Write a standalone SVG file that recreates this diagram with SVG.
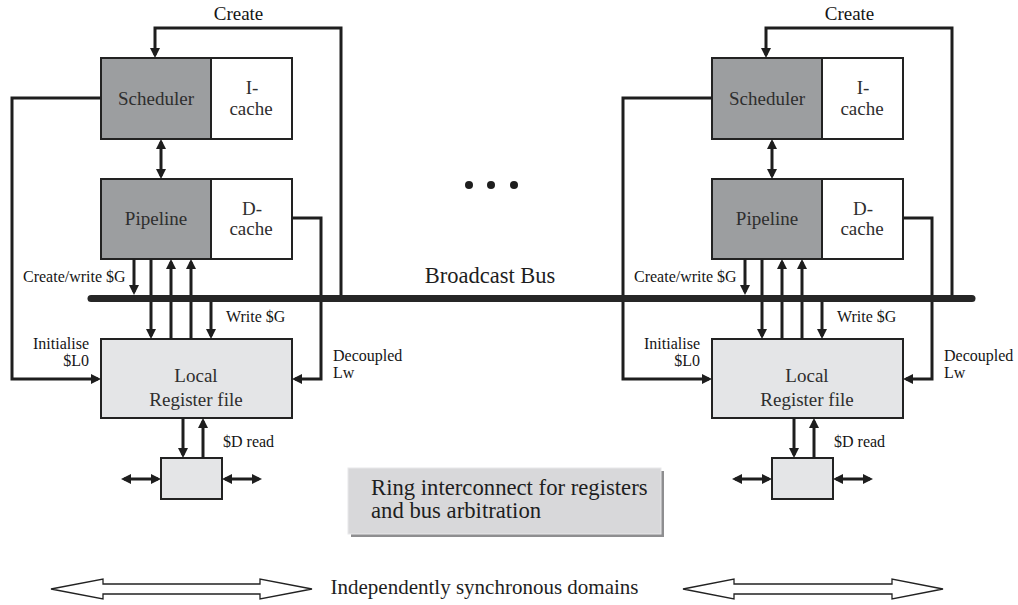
<svg xmlns="http://www.w3.org/2000/svg" width="1018" height="605" viewBox="0 0 1018 605">
<style>
.dark{fill:#9c9ea0;stroke:#222;stroke-width:2}
.white{fill:#fff;stroke:#222;stroke-width:2}
.light{fill:#e4e5e7;stroke:#222;stroke-width:2}
.conn{fill:none;stroke:#1e1e1e;stroke-width:3}
.bus{fill:none;stroke:#262626;stroke-width:7;stroke-linecap:round}
text{font-family:'Liberation Serif','Times New Roman',Times,'DejaVu Serif',serif}
.nt{font-size:19px;fill:#2e2e2e;text-anchor:middle}
.lbl{font-size:16px;fill:#151515}
.big{font-size:21px;fill:#1e1e1e}
.hollow{fill:#fff;stroke:#222;stroke-width:1.3}
</style>
<defs>
<marker id="ah" viewBox="0 0 10 10" refX="7" refY="5" markerWidth="10" markerHeight="10" markerUnits="userSpaceOnUse" orient="auto-start-reverse">
<path d="M0,0 L10,5 L0,10 z" fill="#1e1e1e"/>
</marker>
</defs>
<rect width="1018" height="605" fill="#fff"/>

<!-- Left unit nodes -->
<g id="scheduler-1"><rect class="dark" x="101" y="58" width="110" height="81"/><text class="nt" x="156" y="105">Scheduler</text></g>
<g id="icache-1"><rect class="white" x="211" y="58" width="81" height="81"/><text class="nt" x="252" y="94">I-</text><text class="nt" x="251" y="115">cache</text></g>
<g id="pipeline-1"><rect class="dark" x="101" y="179" width="110" height="80"/><text class="nt" x="156" y="225">Pipeline</text></g>
<g id="dcache-1"><rect class="white" x="211" y="179" width="81" height="80"/><text class="nt" x="252" y="215">D-</text><text class="nt" x="251" y="235">cache</text></g>
<g id="regfile-1"><rect class="light" x="101" y="339" width="191" height="79"/><text class="nt" x="196" y="382">Local</text><text class="nt" x="196" y="406">Register file</text></g>
<g id="ringnode-1"><rect class="light" x="161" y="458" width="61" height="41"/></g>

<!-- Right unit nodes -->
<g id="scheduler-2" transform="translate(611,0)"><rect class="dark" x="101" y="58" width="110" height="81"/><text class="nt" x="156" y="105">Scheduler</text></g>
<g id="icache-2" transform="translate(611,0)"><rect class="white" x="211" y="58" width="81" height="81"/><text class="nt" x="252" y="94">I-</text><text class="nt" x="251" y="115">cache</text></g>
<g id="pipeline-2" transform="translate(611,0)"><rect class="dark" x="101" y="179" width="110" height="80"/><text class="nt" x="156" y="225">Pipeline</text></g>
<g id="dcache-2" transform="translate(611,0)"><rect class="white" x="211" y="179" width="81" height="80"/><text class="nt" x="252" y="215">D-</text><text class="nt" x="251" y="235">cache</text></g>
<g id="regfile-2" transform="translate(611,0)"><rect class="light" x="101" y="339" width="191" height="79"/><text class="nt" x="196" y="382">Local</text><text class="nt" x="196" y="406">Register file</text></g>
<g id="ringnode-2" transform="translate(611,0)"><rect class="light" x="161" y="458" width="61" height="41"/></g>

<!-- Ring interconnect box -->
<g id="ring-note">
<rect x="351" y="471" width="313" height="66" fill="#8e8e90"/>
<rect x="348" y="468" width="313" height="66" fill="#d8d8da" stroke="#e8e8ea" stroke-width="1"/>
<text class="big" x="371" y="495" style="font-size:22.7px">Ring interconnect for registers</text>
<text class="big" x="371" y="518" style="font-size:22.7px">and bus arbitration</text>
</g>

<!-- Connectors -->
<g id="connectors">
<g id="conn-1">
<path class="conn" d="M341,295 V28 H155 V55" marker-end="url(#ah)"/>
<path class="conn" d="M101,98 H12 V379 H98" marker-end="url(#ah)"/>
<path class="conn" d="M161,142 V176" marker-start="url(#ah)" marker-end="url(#ah)"/>
<path class="conn" d="M292,218 H321 V379 H295" marker-end="url(#ah)"/>
<path class="conn" d="M134,259 V292" marker-end="url(#ah)"/>
<path class="conn" d="M151,259 V336" marker-end="url(#ah)"/>
<path class="conn" d="M171,339 V262" marker-end="url(#ah)"/>
<path class="conn" d="M191,339 V262" marker-end="url(#ah)"/>
<path class="conn" d="M211,298 V336" marker-end="url(#ah)"/>
<path class="conn" d="M183,418 V455" marker-end="url(#ah)"/>
<path class="conn" d="M203,458 V421" marker-end="url(#ah)"/>
<path class="conn" d="M124,479 H158" marker-start="url(#ah)" marker-end="url(#ah)"/>
<path class="conn" d="M225,479 H259" marker-start="url(#ah)" marker-end="url(#ah)"/>
</g>
<g id="conn-2" transform="translate(611,0)">
<path class="conn" d="M341,295 V28 H155 V55" marker-end="url(#ah)"/>
<path class="conn" d="M101,98 H12 V379 H98" marker-end="url(#ah)"/>
<path class="conn" d="M161,142 V176" marker-start="url(#ah)" marker-end="url(#ah)"/>
<path class="conn" d="M292,218 H321 V379 H295" marker-end="url(#ah)"/>
<path class="conn" d="M134,259 V292" marker-end="url(#ah)"/>
<path class="conn" d="M151,259 V336" marker-end="url(#ah)"/>
<path class="conn" d="M171,339 V262" marker-end="url(#ah)"/>
<path class="conn" d="M191,339 V262" marker-end="url(#ah)"/>
<path class="conn" d="M211,298 V336" marker-end="url(#ah)"/>
<path class="conn" d="M183,418 V455" marker-end="url(#ah)"/>
<path class="conn" d="M203,458 V421" marker-end="url(#ah)"/>
<path class="conn" d="M124,479 H158" marker-start="url(#ah)" marker-end="url(#ah)"/>
<path class="conn" d="M225,479 H259" marker-start="url(#ah)" marker-end="url(#ah)"/>
</g>
<path id="broadcast-bus" class="bus" d="M91,298.5 H972"/>
</g>

<!-- Labels -->
<g id="labels">
<text class="lbl" x="238.5" y="20" text-anchor="middle" style="font-size:19px">Create</text>
<text class="lbl" x="23" y="282">Create/write $G</text>
<text class="lbl" x="226" y="322">Write $G</text>
<text class="lbl" x="89" y="349" text-anchor="end">Initialise</text>
<text class="lbl" x="89" y="366" text-anchor="end">$L0</text>
<text class="lbl" x="333" y="361">Decoupled</text>
<text class="lbl" x="333" y="378">Lw</text>
<text class="lbl" x="223" y="447">$D read</text>

<text class="lbl" x="849.5" y="20" text-anchor="middle" style="font-size:19px">Create</text>
<text class="lbl" x="634" y="282">Create/write $G</text>
<text class="lbl" x="837" y="322">Write $G</text>
<text class="lbl" x="700" y="349" text-anchor="end">Initialise</text>
<text class="lbl" x="700" y="366" text-anchor="end">$L0</text>
<text class="lbl" x="944" y="361">Decoupled</text>
<text class="lbl" x="944" y="378">Lw</text>
<text class="lbl" x="834" y="447">$D read</text>

<text class="big" x="490" y="283" text-anchor="middle" style="font-size:22.5px">Broadcast Bus</text>
<text class="big" x="484.5" y="594" text-anchor="middle">Independently synchronous domains</text>
</g>

<g id="ellipsis" fill="#1e1e1e">
<circle cx="469" cy="185" r="4"/><circle cx="491" cy="185" r="4"/><circle cx="514" cy="185" r="4"/>
</g>

<g id="domain-arrows">
<polygon class="hollow" points="51,589 103,579 103,584 260,584 260,579 312,589 260,599 260,594 103,594 103,599"/>
<polygon class="hollow" points="683,589 734,579 734,584 892,584 892,579 943,589 892,599 892,594 734,594 734,599"/>
</g>
</svg>
